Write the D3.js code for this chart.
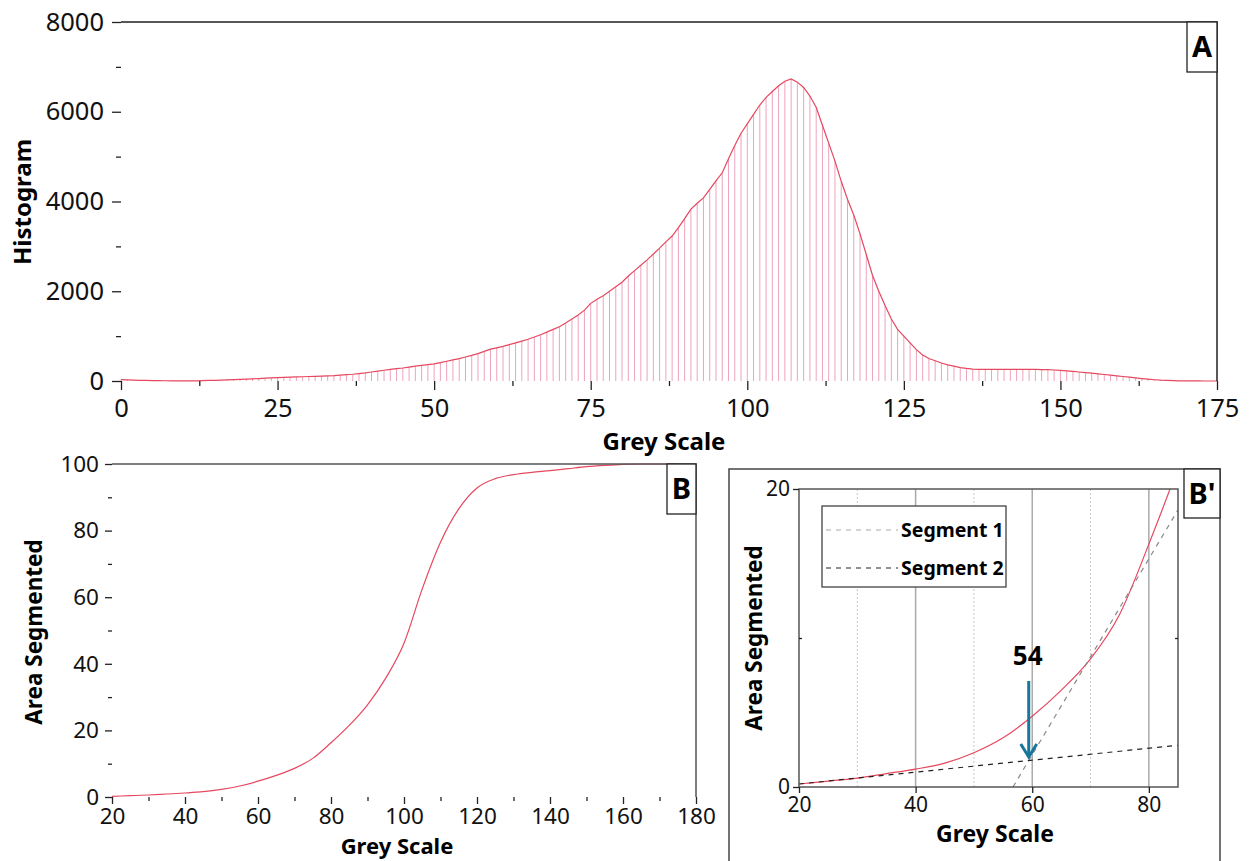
<!DOCTYPE html>
<html>
<head>
<meta charset="utf-8">
<script src="https://cdn.jsdelivr.net/npm/d3@7"></script>
<style>
  body { margin: 0; background: #fff; }
  svg { display: block; font-family: "Noto Sans", "Open Sans", sans-serif; }
</style>
</head>
<body>
<svg id="chart" width="1253" height="861"></svg>
<script>
// histogram counts for grey levels 0..175
const histogram = [
  30, 25, 20, 15, 12, 10, 8, 6, 5, 5,
  5, 5, 5, 8, 12, 15, 20, 25, 30, 35,
  40, 48, 55, 62, 68, 74, 80, 85, 90, 95,
  100, 105, 110, 115, 120, 130, 140, 150, 165, 180,
  200, 220, 240, 260, 275, 290, 310, 330, 350, 365,
  380, 410, 440, 470, 500, 535, 570, 610, 660, 710,
  740, 770, 810, 850, 890, 930, 980, 1030, 1090, 1150,
  1210, 1290, 1380, 1470, 1580, 1730, 1820, 1900, 2000, 2100,
  2200, 2340, 2460, 2580, 2700, 2830, 2960, 3100, 3230, 3420,
  3620, 3830, 3960, 4080, 4270, 4460, 4640, 4950, 5250, 5520,
  5730, 5940, 6150, 6320, 6450, 6580, 6680, 6730, 6660, 6540,
  6350, 6100, 5700, 5300, 4900, 4450, 4050, 3700, 3280, 2820,
  2350, 2000, 1680, 1380, 1150, 1000, 850, 700, 580, 500,
  450, 400, 360, 330, 300, 280, 265, 260, 260, 260,
  260, 260, 260, 260, 260, 260, 258, 255, 252, 245,
  235, 225, 215, 200, 188, 175, 160, 145, 130, 115,
  100, 85, 70, 55, 40, 28, 18, 12, 8, 5,
  3, 2, 1, 0, 0, 0
]

// cumulative area segmented (%) vs grey level
const areaGrey = [20, 25, 30, 35, 40, 45, 50, 55, 60, 65, 70, 75, 80, 85, 90, 95, 100, 105, 110, 115, 120, 125, 130, 135, 140, 145, 150, 155, 160, 165, 170, 175]
const areaValues = [0.2, 0.4, 0.6, 0.9, 1.2, 1.6, 2.3, 3.3, 4.75, 6.5, 8.6, 11.6, 16.3, 21.5, 27.7, 35.7, 46.2, 62.5, 76.5, 86.5, 92.8, 95.6, 96.8, 97.5, 98.0, 98.6, 99.2, 99.6, 99.9, 100, 100, 100]

// fitted segments in B'
const segment1 = [[56.7, 0], [85, 18.6]]
const segment2 = [[20, 0.2], [85, 2.8]]
const thresholdLabel = "54"
const thresholdGrey = 59.4

const svg = d3.select("#chart")
const red = "#e5485f"
const pink = "#eea3bd"
const fontFamily = '"Noto Sans", "Open Sans", sans-serif'
const fmt = d3.format("d")

// ---------- Panel A ----------
const ax = d3.scaleLinear().domain([0, 175]).range([121, 1217])
const ay = d3.scaleLinear().domain([0, 8000]).range([381, 22])
const gA = svg.append("g")

gA.selectAll("line.bar")
  .data(histogram)
  .join("line")
  .attr("class", "bar")
  .attr("x1", (d, i) => ax(i)).attr("x2", (d, i) => ax(i))
  .attr("y1", ay(0)).attr("y2", d => ay(d))
  .attr("stroke", pink).attr("stroke-width", 1)

gA.append("path")
  .datum(histogram)
  .attr("d", d3.line().x((d, i) => ax(i)).y(d => ay(d)))
  .attr("fill", "none").attr("stroke", red).attr("stroke-width", 1.2)

// frame
gA.append("path")
  .attr("d", `M${ax(0)},${ay(8000)}H${ax(175)}V${ay(0)}`)
  .attr("fill", "none").attr("stroke", "#222").attr("stroke-width", 1.5)

gA.append("g").attr("transform", `translate(0,${ay(0)})`)
  .call(d3.axisBottom(ax).tickValues([0, 25, 50, 75, 100, 125, 150, 175]).tickFormat(fmt).tickSize(9).tickPadding(9))
gA.append("g").attr("transform", `translate(0,${ay(0)})`)
  .call(d3.axisBottom(ax).tickValues(d3.range(12.5, 175, 25)).tickSize(5).tickFormat(""))
gA.append("g").attr("transform", `translate(${ax(0)},0)`)
  .call(d3.axisLeft(ay).tickValues([0, 2000, 4000, 6000, 8000]).tickFormat(fmt).tickSize(9).tickPadding(8))
gA.append("g").attr("transform", `translate(${ax(0)},0)`)
  .call(d3.axisLeft(ay).tickValues([1000, 3000, 5000, 7000]).tickSize(5).tickFormat(""))

gA.append("text").attr("x", 664).attr("y", 450).attr("text-anchor", "middle")
  .attr("font-weight", "bold").attr("font-size", 24).text("Grey Scale")
gA.append("text").attr("transform", "translate(31,202) rotate(-90)").attr("text-anchor", "middle")
  .attr("font-weight", "bold").attr("font-size", 24).text("Histogram")

// ---------- Panel B ----------
const bx = d3.scaleLinear().domain([20, 180]).range([112, 696])
const by = d3.scaleLinear().domain([0, 100]).range([797, 464])
const gB = svg.append("g")

gB.append("path")
  .datum(areaGrey.map((g, i) => [g, areaValues[i]]))
  .attr("d", d3.line().x(d => bx(d[0])).y(d => by(d[1])).curve(d3.curveMonotoneX))
  .attr("fill", "none").attr("stroke", red).attr("stroke-width", 1.2)

gB.append("path")
  .attr("d", `M${bx(20)},${by(100)}H${bx(180)}V${by(0)}`)
  .attr("fill", "none").attr("stroke", "#555").attr("stroke-width", 1.5)

gB.append("g").attr("transform", `translate(0,${by(0)})`)
  .call(d3.axisBottom(bx).tickValues(d3.range(20, 181, 20)).tickFormat(fmt).tickSize(7).tickPadding(4))
gB.append("g").attr("transform", `translate(0,${by(0)})`)
  .call(d3.axisBottom(bx).tickValues(d3.range(30, 180, 20)).tickSize(4).tickFormat(""))
gB.append("g").attr("transform", `translate(${bx(20)},0)`)
  .call(d3.axisLeft(by).tickValues(d3.range(0, 101, 20)).tickFormat(fmt).tickSize(7).tickPadding(6))
gB.append("g").attr("transform", `translate(${bx(20)},0)`)
  .call(d3.axisLeft(by).tickValues(d3.range(10, 100, 20)).tickSize(4).tickFormat(""))

gB.append("text").attr("x", 397).attr("y", 854).attr("text-anchor", "middle")
  .attr("font-weight", "bold").attr("font-size", 22).text("Grey Scale")
gB.append("text").attr("transform", "translate(42,632) rotate(-90)").attr("text-anchor", "middle")
  .attr("font-weight", "bold").attr("font-size", 22.5).text("Area Segmented")

// ---------- Panel B' ----------
const cx = d3.scaleLinear().domain([20, 85]).range([799, 1178])
const cy = d3.scaleLinear().domain([0, 20]).range([787, 489])
const gC = svg.append("g")

// outer frame
gC.append("path")
  .attr("d", "M729,875V469H1220V875")
  .attr("fill", "none").attr("stroke", "#444").attr("stroke-width", 1.5)

svg.append("clipPath").attr("id", "clipC")
  .append("rect").attr("x", cx(20)).attr("y", cy(20)).attr("width", cx(85) - cx(20)).attr("height", cy(0) - cy(20))

// grid lines
gC.selectAll("line.grid")
  .data([30, 40, 50, 60, 70, 80])
  .join("line")
  .attr("class", "grid")
  .attr("x1", d => cx(d)).attr("x2", d => cx(d))
  .attr("y1", cy(20)).attr("y2", cy(0))
  .attr("stroke", d => d % 20 === 0 ? "#aaa" : "#c8c8c8")
  .attr("stroke-width", d => d % 20 === 0 ? 1.5 : 1)
  .attr("stroke-dasharray", d => d % 20 === 0 ? null : "2,2")

const plotC = gC.append("g").attr("clip-path", "url(#clipC)")
plotC.append("path")
  .datum(areaGrey.map((g, i) => [g, areaValues[i]]).filter(d => d[0] <= 90))
  .attr("d", d3.line().x(d => cx(d[0])).y(d => cy(d[1])).curve(d3.curveMonotoneX))
  .attr("fill", "none").attr("stroke", red).attr("stroke-width", 1.2)

const segLine = d3.line().x(d => cx(d[0])).y(d => cy(d[1]))
plotC.append("path").datum(segment1).attr("d", segLine)
  .attr("fill", "none").attr("stroke", "#888").attr("stroke-width", 1.2).attr("stroke-dasharray", "5,5")
plotC.append("path").datum(segment2).attr("d", segLine)
  .attr("fill", "none").attr("stroke", "#222").attr("stroke-width", 1.2).attr("stroke-dasharray", "5,5")

gC.append("path")
  .attr("d", `M${cx(20)},${cy(0)}V${cy(20)}H${cx(85)}V${cy(0)}Z`)
  .attr("fill", "none").attr("stroke", "#555").attr("stroke-width", 1.5)

gC.append("g").attr("transform", `translate(0,${cy(0)})`)
  .call(d3.axisBottom(cx).tickValues([20, 40, 60, 80]).tickFormat(fmt).tickSize(6).tickPadding(4))
gC.append("g").attr("transform", `translate(${cx(20)},0)`)
  .call(d3.axisLeft(cy).tickValues([0, 20]).tickFormat(fmt).tickSize(6).tickPadding(3))
gC.append("g").attr("transform", `translate(${cx(20)},0)`)
  .call(d3.axisRight(cy).tickValues([10]).tickSize(3).tickFormat(""))
gC.append("g").attr("transform", `translate(${cx(85)},0)`)
  .call(d3.axisLeft(cy).tickValues([10]).tickSize(3).tickFormat(""))

// legend
const leg = gC.append("g")
leg.append("rect").attr("x", 822).attr("y", 506).attr("width", 184).attr("height", 81)
  .attr("fill", "#fff").attr("stroke", "#333").attr("stroke-width", 1.2)
const legendItems = [["Segment 1", "#aaa"], ["Segment 2", "#222"]]
legendItems.forEach((item, i) => {
  const yy = 530 + i * 38
  leg.append("line").attr("x1", 826).attr("x2", 898).attr("y1", yy).attr("y2", yy)
    .attr("stroke", item[1]).attr("stroke-width", 1.2).attr("stroke-dasharray", "5,5")
  leg.append("text").attr("x", 901).attr("y", yy + 7).attr("font-weight", "bold").attr("font-size", 19.5).text(item[0])
})

// arrow
const arrowColor = "#16779a"
gC.append("line").attr("x1", cx(thresholdGrey)).attr("x2", cx(thresholdGrey))
  .attr("y1", 681).attr("y2", 756).attr("stroke", arrowColor).attr("stroke-width", 3)
gC.append("path")
  .attr("d", `M${cx(thresholdGrey) - 8},${744}L${cx(thresholdGrey)},${757}L${cx(thresholdGrey) + 8},${744}`)
  .attr("fill", "none").attr("stroke", arrowColor).attr("stroke-width", 3)
gC.append("text").attr("x", cx(thresholdGrey) - 1).attr("y", 665).attr("text-anchor", "middle")
  .attr("font-weight", "bold").attr("font-size", 26).text(thresholdLabel)

gC.append("text").attr("x", 995).attr("y", 842).attr("text-anchor", "middle")
  .attr("font-weight", "bold").attr("font-size", 23).text("Grey Scale")
gC.append("text").attr("transform", "translate(762,638) rotate(-90)").attr("text-anchor", "middle")
  .attr("font-weight", "bold").attr("font-size", 22.5).text("Area Segmented")

// ---------- axis styling ----------
svg.selectAll(".domain").remove()
svg.selectAll(".tick line").attr("stroke", "#222").attr("stroke-width", 1.3)
svg.selectAll(".tick text").attr("font-family", fontFamily).attr("fill", "#111")
gA.selectAll(".tick text").attr("font-size", 25.5)
gB.selectAll(".tick text").attr("font-size", 22.5)
gC.selectAll(".tick text").attr("font-size", 21)

// ---------- panel labels ----------
const panelLabels = [
  { text: "A", x: 1187, y: 22, w: 30, h: 50 },
  { text: "B", x: 667, y: 464, w: 29, h: 50 },
  { text: "B'", x: 1184, y: 469, w: 36, h: 49 }
]
panelLabels.forEach(p => {
  svg.append("rect").attr("x", p.x).attr("y", p.y).attr("width", p.w).attr("height", p.h)
    .attr("fill", "#fff").attr("stroke", "#222").attr("stroke-width", 1.3)
  svg.append("text").attr("x", p.x + p.w / 2).attr("y", p.y + p.h / 2 + 10).attr("text-anchor", "middle")
    .attr("font-weight", "bold").attr("font-size", 29).text(p.text)
})
</script>
</body>
</html>
